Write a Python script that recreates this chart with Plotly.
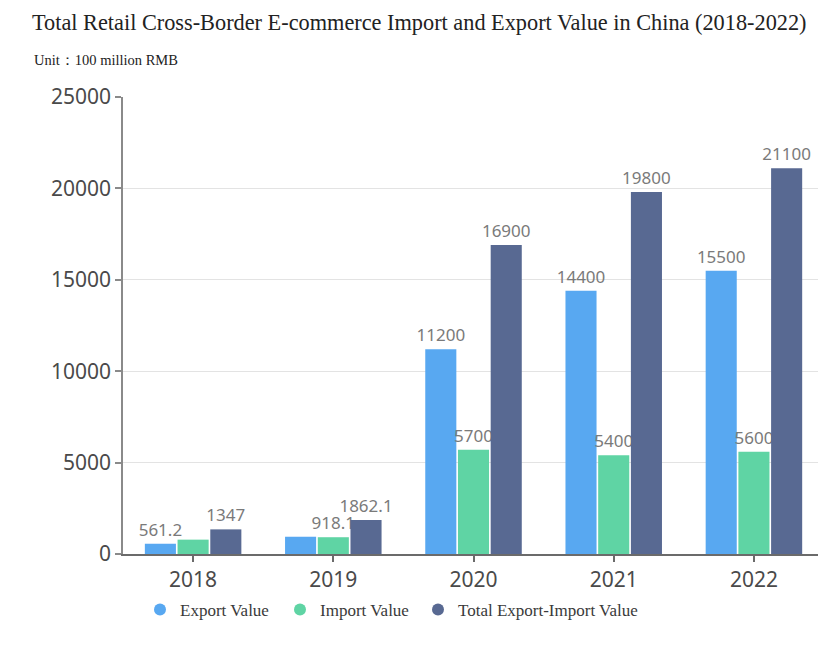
import plotly.graph_objects as go

# Cross-border e-commerce retail trade, unit: 100 million RMB
years = ["2018", "2019", "2020", "2021", "2022"]
export_value = [561.2, 944, 11200, 14400, 15500]
import_value = [785.8, 918.1, 5700, 5400, 5600]
total_value = [1347, 1862.1, 16900, 19800, 21100]

export_text = ["561.2", "", "11200", "14400", "15500"]
import_text = ["", "918.1", "5700", "5400", "5600"]
total_text = ["1347", "1862.1", "16900", "19800", "21100"]

series_names = ["Export Value", "Import Value", "Total Export-Import Value"]
colors = ["#58a8f1", "#5fd4a4", "#586992"]

W, H = 818, 646
ML, MR, MT, MB = 123, 0, 97, 92
PW = W - ML - MR
PH = H - MT - MB


def px_to_paper_x(px):
    return (px - ML) / PW


def px_to_paper_y(py):
    return (H - MB - py) / PH


fig = go.Figure()
label_font = dict(family="Noto Sans, sans-serif", size=17, color="#7a7a7a")

for name, vals, txt, col in zip(series_names,
                                [export_value, import_value, total_value],
                                [export_text, import_text, total_text],
                                colors):
    fig.add_trace(go.Bar(
        x=years, y=vals, name=name, text=txt,
        textposition="outside", textfont=label_font, outsidetextfont=label_font,
        constraintext="none",
        marker=dict(color=col, line=dict(width=0)),
        cliponaxis=False, showlegend=False,
    ))

serif = "Liberation Serif, Times New Roman, serif"

# one legend per series so each key sits at its own position
legend_ids = ["legend", "legend2", "legend3"]
legend_left_px = [140, 280, 418]
legend_layout = {}
for name, col, lid, lx in zip(series_names, colors, legend_ids, legend_left_px):
    fig.add_trace(go.Scatter(
        x=[None], y=[None], mode="markers", name=name, legend=lid,
        marker=dict(symbol="circle", size=15, color=col),
    ))
    legend_layout[lid] = dict(
        orientation="h", x=px_to_paper_x(lx), y=px_to_paper_y(610),
        xanchor="left", yanchor="middle", bgcolor="rgba(0,0,0,0)",
        font=dict(family=serif, size=17, color="#3a3a3a"),
        itemsizing="constant",
    )

fig.update_layout(
    width=W, height=H,
    margin=dict(l=ML, r=MR, t=MT, b=MB),
    paper_bgcolor="white", plot_bgcolor="white",
    barmode="group", bargap=0.3, bargroupgap=0.05,
    annotations=[
        dict(text="Total Retail Cross-Border E-commerce Import and Export Value in China (2018-2022)",
             xref="paper", yref="paper", x=px_to_paper_x(30), y=px_to_paper_y(22),
             xanchor="left", yanchor="middle", showarrow=False,
             font=dict(family=serif, size=22.3, color="#222222")),
        dict(text="Unit：100 million RMB",
             xref="paper", yref="paper", x=px_to_paper_x(32), y=px_to_paper_y(60),
             xanchor="left", yanchor="middle", showarrow=False,
             font=dict(family=serif, size=14.5, color="#222222")),
    ],
    **legend_layout,
)

fig.update_xaxes(
    range=[-0.5, 4.457], showgrid=False,
    showline=True, linecolor="#6b6b6b", linewidth=1.5,
    ticks="outside", ticklen=6, tickcolor="#6b6b6b", tickwidth=1.5,
    tickfont=dict(family="Noto Sans, sans-serif", size=21, color="#4a4a4a"),
    fixedrange=True,
)
fig.update_yaxes(
    range=[0, 25000], dtick=5000, tickformat="d",
    showgrid=True, gridcolor="#e3e3e3", gridwidth=1,
    showline=True, linecolor="#8a8a8a", linewidth=1.5,
    ticks="outside", ticklen=6, tickcolor="#8a8a8a", tickwidth=1.5,
    tickfont=dict(family="Noto Sans, sans-serif", size=21, color="#4a4a4a"),
    zeroline=False, fixedrange=True,
)

fig.write_html("out.html")
